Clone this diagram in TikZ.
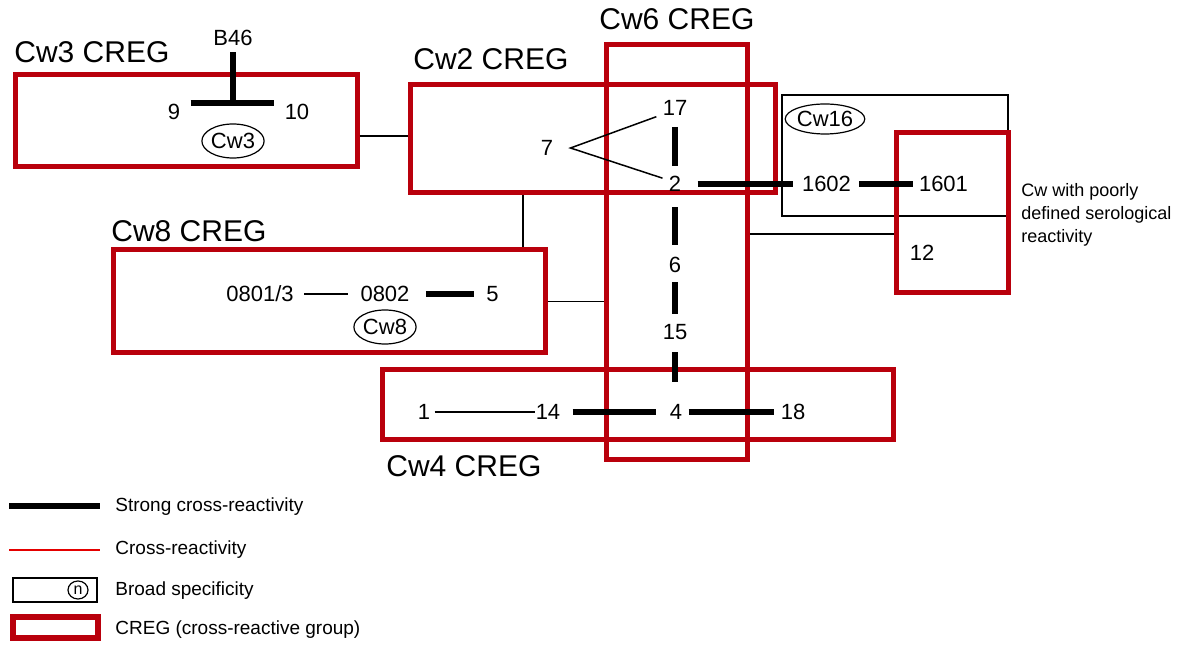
\documentclass[tikz,border=0pt]{standalone}
\usepackage{fontspec}
\setmainfont{Liberation Sans}
\usetikzlibrary{shapes.geometric}
\definecolor{cregred}{RGB}{185,0,12}
\definecolor{linered}{RGB}{228,0,0}

\begin{document}
\begin{tikzpicture}[x=0.5pt,y=-0.5pt,every node/.style={font=\fontsize{11}{13}\selectfont,inner sep=3pt},creg/.style={draw=cregred,line width=2.5pt,inner sep=0pt},broad/.style={draw,line width=0.75pt,inner sep=0pt},title/.style={font=\fontsize{15}{18}\selectfont,anchor=base west,inner sep=0pt},ser/.style={ellipse,draw,line width=0.6pt,inner sep=0pt,minimum width=31pt,minimum height=17pt},strong/.style={line width=3.2pt},link/.style={line width=0.75pt},legend/.style={font=\fontsize{9.5}{11}\selectfont,anchor=west,inner sep=0pt}]
\useasboundingbox (0,0) rectangle (1191,646);
\node[broad,minimum width=113pt,minimum height=60.5pt] (cw16) at (895,155.5) {};
\node[creg,minimum width=171pt,minimum height=46pt] (cw3) at (186,121) {};
\node[creg,minimum width=182.5pt,minimum height=54pt] (cw2) at (592.5,139) {};
\node[creg,minimum width=70.5pt,minimum height=207.5pt] (cw6) at (676.5,252.5) {};
\node[creg,minimum width=216pt,minimum height=51.5pt] (cw8) at (329,301.5) {};
\node[creg,minimum width=255.5pt,minimum height=35pt] (cw4) at (637.5,405) {};
\node[creg,minimum width=56pt,minimum height=80pt] (cw12) at (952,213) {};
\node[title] (t3) at (14,63) {Cw3 CREG};
\node[title] (t2) at (413,70) {Cw2 CREG};
\node[title] (t6) at (599,30) {Cw6 CREG};
\node[title] (t8) at (111,242) {Cw8 CREG};
\node[title] (t4) at (386,477) {Cw4 CREG};
\node (b46) at (233,38) {B46};
\node (n9) at (174,112) {9};
\node (n10) at (297,112) {10};
\node[ser] (s3) at (233,141) {Cw3};
\node (n7) at (547,148) {7};
\node (n17) at (675,108) {17};
\node (n2) at (675,184) {2};
\node (n6) at (675,265) {6};
\node (n15) at (675,332) {15};
\node (n4) at (676,412) {4};
\node (n1602) at (826.5,184) {1602};
\node (n1601) at (943.5,184) {1601};
\node[ser,minimum width=37pt,minimum height=15pt] (s16) at (825,119) {Cw16};
\node (n12) at (922,253) {12};
\node (n0801) at (260,294) {0801/3};
\node (n0802) at (385,294) {0802};
\node (n5) at (492.5,294) {5};
\node[ser,minimum width=30pt] (s8) at (385,327) {Cw8};
\node (n1) at (424,412) {1};
\node (n14) at (548,412) {14};
\node (n18) at (793,412) {18};
\node[font=\fontsize{9}{11.5}\selectfont,align=left,anchor=north west,inner sep=0pt] (poor) at (1021,183) {Cw with poorly\\defined serological\\reactivity};
\coordinate (tee) at (233,103);
\draw[strong] (b46.south) -- (tee);
\draw[strong,shorten <=2pt,shorten >=2pt] (tee -| n9.east) -- (tee -| n10.west);
\draw[link] (n17.205) -- ([xshift=5.5pt]n7.east) -- (n2.155);
\draw[strong,shorten <=2.5pt,shorten >=2pt] (n17) -- (n2);
\draw[strong,shorten <=4.5pt,shorten >=3pt] (n2) -- (n6);
\draw[strong,shorten <=1.5pt,shorten >=2pt] (n6) -- (n15);
\draw[strong,shorten <=3pt,shorten >=8pt] (n15) -- (n15 |- n4.north);
\draw[strong,shorten <=5pt,shorten >=1.5pt] (n2) -- (n1602);
\draw[strong,shorten <=1pt] (n1602) -- (n1601);
\draw[link,shorten <=-1pt,shorten >=-3pt] (n1) -- (n14);
\draw[strong,shorten <=3pt,shorten >=3.5pt] (n14) -- (n4);
\draw[strong] (n4) -- (n18);
\draw[link,shorten <=2pt,shorten >=3pt] (n0801) -- (n0802);
\draw[strong,shorten <=5pt,shorten >=3pt] (n0802) -- (n5);
\draw[link] ([yshift=-7.5pt]cw3.east) -- ([yshift=-7.5pt]cw3.east -| cw2.west);
\draw[link] ([xshift=-34.75pt]cw2.south) -- ([xshift=-34.75pt]cw2.south |- cw8.north);
\draw[link] (cw8.east) -- (cw8.east -| cw6.west);
\draw[link] ([yshift=-10.5pt]cw12.west) -- ([yshift=-10.5pt]cw12.west -| cw6.east);
\coordinate (k1) at (9,506);
\coordinate (k2) at (9,550);
\draw[strong] (k1) -- ++(91,0);
\draw[linered,line width=0.8pt] (k2) -- ++(91,0);
\node[broad,minimum width=42pt,minimum height=12pt] (kb) at (55,590) {};
\node[ser,minimum width=10pt,minimum height=9pt,font=\fontsize{8}{9}\selectfont] (kn) at (78,590) {n};
\node[creg,line width=3pt,minimum width=42.5pt,minimum height=10.5pt] (kc) at (55.5,627.5) {};
\node[legend] (l1) at (115,507) {Strong cross-reactivity};
\node[legend] (l2) at (115,550) {Cross-reactivity};
\node[legend] (l3) at (115,591) {Broad specificity};
\node[legend] (l4) at (115,630) {CREG (cross-reactive group)};
\end{tikzpicture}
\end{document}
